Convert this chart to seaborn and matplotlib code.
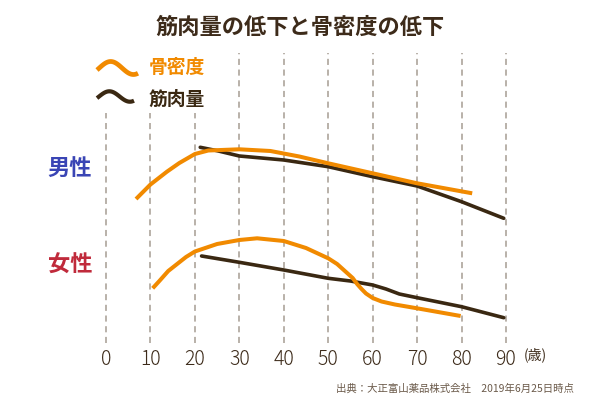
import numpy as np
import pandas as pd
import matplotlib
matplotlib.use("Agg")
import matplotlib.pyplot as plt
import seaborn as sns

# ages on the x axis (tick labels)
tick_ages = [0, 10, 20, 30, 40, 50, 60, 70, 80, 90]

# male - bone density (orange), relative level
male_bone_age = [6.75, 10, 13.7, 16.5, 20, 23, 30, 37, 43.5, 50, 60, 70, 82.4]
male_bone_lvl = [144, 158.5, 171.3, 180, 189, 192.5, 193.7, 192, 186.5, 179.7, 169.7, 159.7, 149.7]

# male - muscle mass (dark brown)
male_muscle_age = [21.2, 25, 30, 40, 50, 60, 70, 80, 89.5]
male_muscle_lvl = [195.7, 192.3, 187, 183, 176.3, 166.3, 157, 141.3, 124.7]

# female - bone density
female_bone_age = [10.5, 12, 14, 16, 18, 20, 25, 30, 34, 40, 45, 50, 52, 54, 55.5, 56.5, 57.5,
                   58.5, 60, 62, 65, 70, 79.8]
female_bone_lvl = [54.7, 62, 72, 79, 86, 91.5, 99, 103, 104.7, 102, 95, 84.7, 79, 71, 65, 59,
                   54, 49.5, 45, 41.5, 38.5, 34.7, 27]

# female - muscle mass
female_muscle_age = [21.5, 30, 40, 50, 55, 60, 63, 66, 70, 80, 89.5]
female_muscle_lvl = [87, 80.7, 73, 64.7, 62, 58, 54, 49, 45.3, 36.3, 25.3]

ORANGE = "#F18A00"
DARK = "#3A2812"
GRID = "#A69C92"
TEXT = "#3D2B1A"

sns.set_theme(style="white")
plt.rcParams['font.family'] = ['Noto Sans CJK JP', 'DejaVu Sans']

fig = plt.figure(figsize=(6, 4), dpi=100)
ax = fig.add_axes([83.8 / 600, 57 / 400, 444.4 / 600, 290 / 400])
ax.set_xlim(-5, 95)
ax.set_ylim(0, 290)

# dashed guide lines (the first three stop below the legend)
for a in tick_ages:
    top = 230 if a <= 20 else 290
    ax.vlines(a, 0, top, colors=GRID, linewidth=1.1, linestyles=(0, (4, 3)), zorder=1)

muscle = pd.concat([
    pd.DataFrame({"age": male_muscle_age, "lvl": male_muscle_lvl, "grp": "m"}),
    pd.DataFrame({"age": female_muscle_age, "lvl": female_muscle_lvl, "grp": "f"}),
])
bone = pd.concat([
    pd.DataFrame({"age": male_bone_age, "lvl": male_bone_lvl, "grp": "m"}),
    pd.DataFrame({"age": female_bone_age, "lvl": female_bone_lvl, "grp": "f"}),
])

sns.lineplot(data=muscle, x="age", y="lvl", units="grp", estimator=None, color=DARK,
             linewidth=2.6, ax=ax, zorder=3, solid_joinstyle="round")
sns.lineplot(data=bone, x="age", y="lvl", units="grp", estimator=None, color=ORANGE,
             linewidth=2.9, ax=ax, zorder=4, solid_joinstyle="round", solid_capstyle="butt")

for s in ax.spines.values():
    s.set_visible(False)
ax.set_xlabel("")
ax.set_ylabel("")
ax.set_yticks([])
ax.set_xticks(tick_ages)
ax.set_xticklabels([str(a) for a in tick_ages], fontsize=14, color=TEXT, fontweight="light")
ax.tick_params(axis="x", length=0, pad=4)

# title
fig.text(0.5, 1 - 27 / 400, "筋肉量の低下と骨密度の低下", ha="center", va="center",
         fontsize=16, fontweight="bold", color=TEXT)

# legend with wavy icons
ov = fig.add_axes([0, 0, 1, 1])
ov.set_xlim(0, 600)
ov.set_ylim(400, 0)
ov.axis("off")
t = np.linspace(-0.1 * np.pi, 1.7 * np.pi, 60)
ov.plot(97 + (t - t[0]) / (t[-1] - t[0]) * 41, 68 - 6.5 * np.sin(t), color=ORANGE, lw=3.4,
        solid_capstyle="butt")
ov.plot(97 + (t - t[0]) / (t[-1] - t[0]) * 37, 96.5 - 5.2 * np.sin(t), color=DARK, lw=3.0,
        solid_capstyle="butt")
fig.text(149 / 600, 1 - 67 / 400, "骨密度", ha="left", va="center", fontsize=13.5,
         fontweight="bold", color=ORANGE)
fig.text(149 / 600, 1 - 99 / 400, "筋肉量", ha="left", va="center", fontsize=13.5,
         fontweight="bold", color=DARK)

# group labels
fig.text(70 / 600, 1 - 168 / 400, "男性", ha="center", va="center", fontsize=16,
         fontweight="bold", color="#3A45B5")
fig.text(70 / 600, 1 - 265 / 400, "女性", ha="center", va="center", fontsize=16,
         fontweight="bold", color="#C02A3B")

fig.text(524 / 600, 1 - 355 / 400, "(歳)", ha="left", va="center", fontsize=10,
         color=TEXT)
fig.text(574 / 600, 1 - 389 / 400, "出典：大正富山薬品株式会社　2019年6月25日時点", ha="right",
         va="center", fontsize=7.5, color="#6B5A4A")

fig.savefig("out.png", dpi=100)
